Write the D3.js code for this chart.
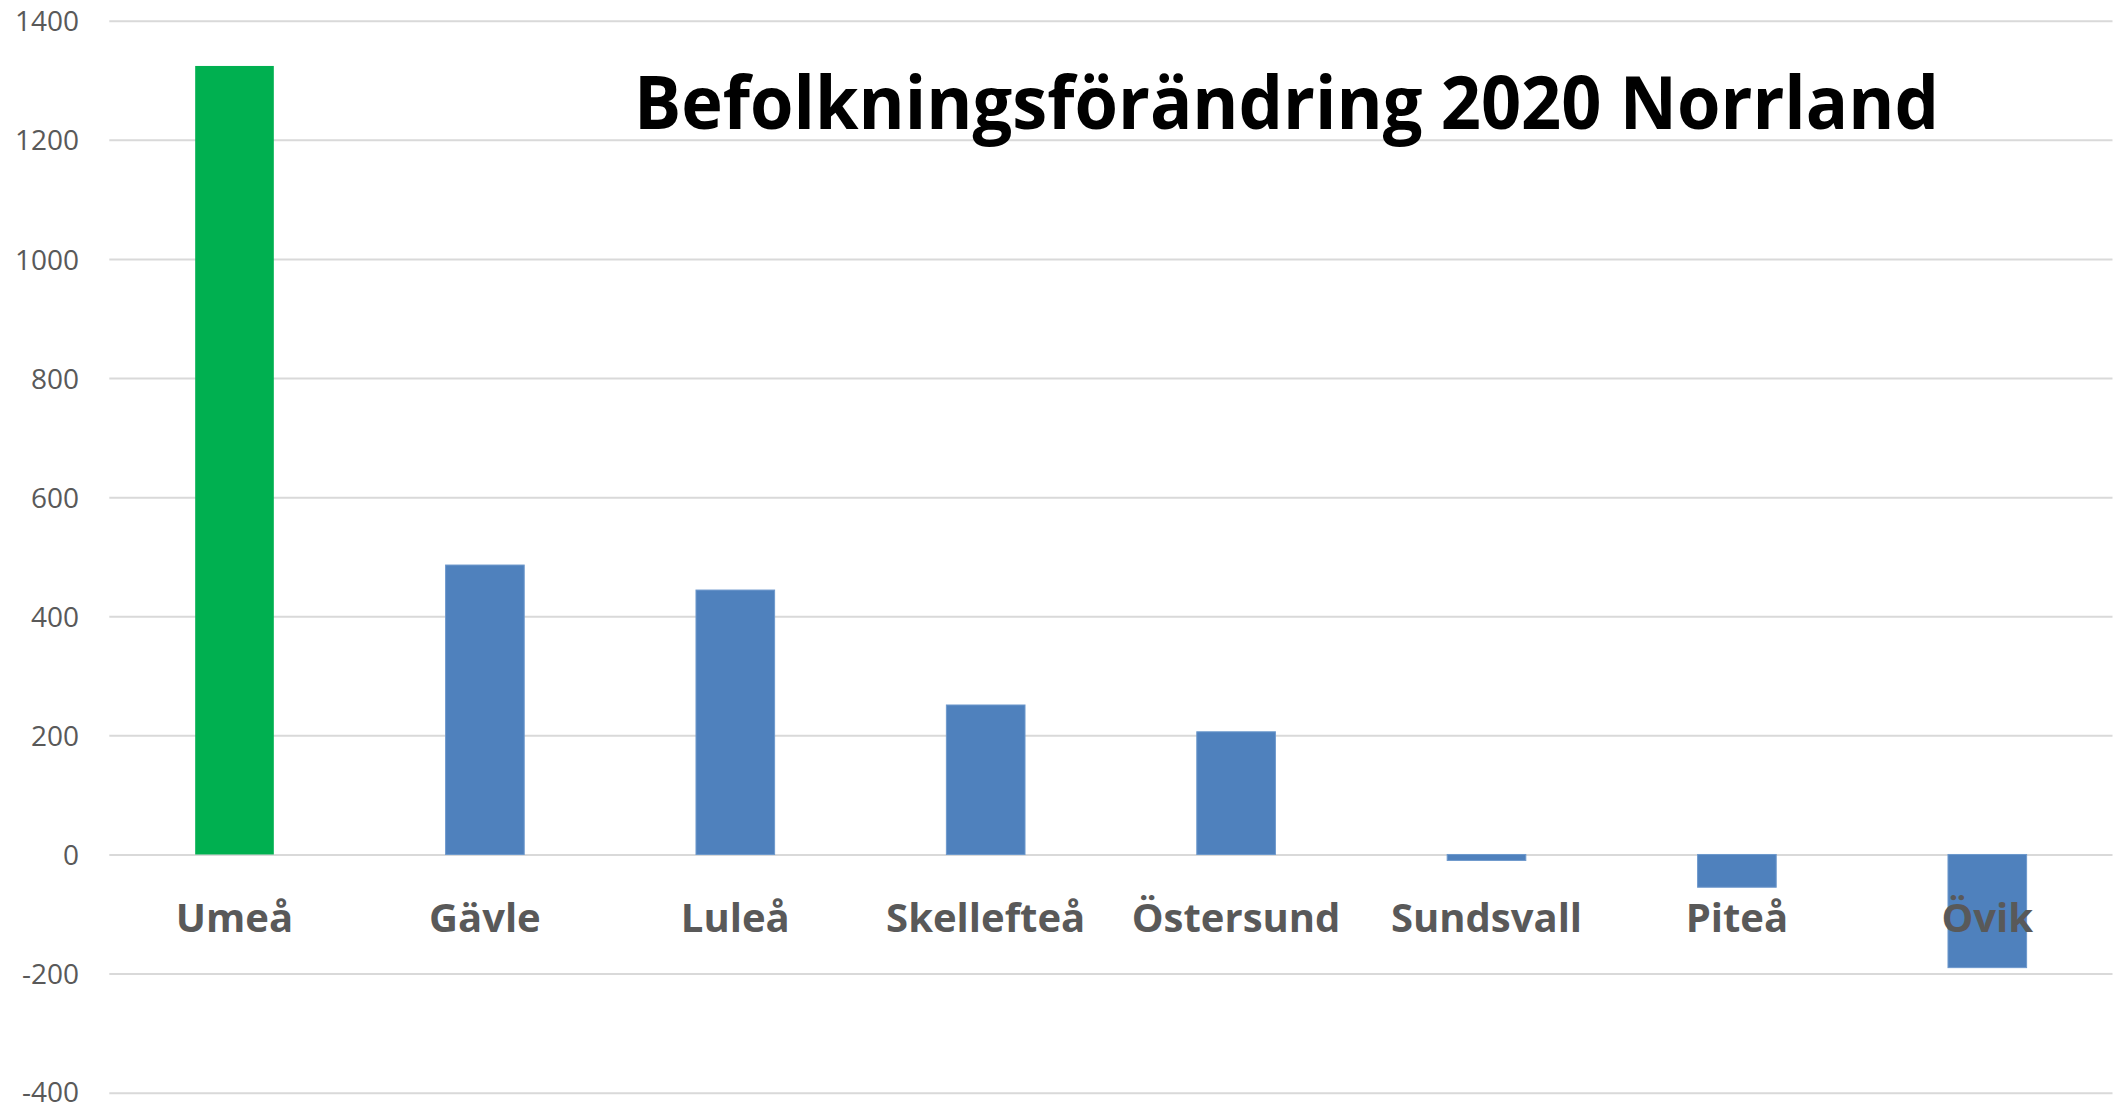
<!DOCTYPE html>
<html>
<head>
<meta charset="utf-8">
<script src="https://cdn.jsdelivr.net/npm/d3@7"></script>
<style>
  html, body { margin: 0; padding: 0; background: #ffffff; }
  svg { display: block; }
</style>
</head>
<body>
<svg id="chart" width="2123" height="1108"></svg>
<script>
// ---- data ----
const categories = ["Umeå", "Gävle", "Luleå", "Skellefteå", "Östersund", "Sundsvall", "Piteå", "Övik"];
const values = [1324, 486, 444, 251, 206, -10, -55, -190];
const yTicks = [-400, -200, 0, 200, 400, 600, 800, 1000, 1200, 1400];
const titleText = "Befolkningsförändring 2020 Norrland";
const highlighted = ["Umeå"];

// ---- layout ----
const plot = { left: 109.3, right: 2112.5, top: 20.7, bottom: 1092.7 };
const svg = d3.select("#chart");

const x = d3.scaleBand()
  .domain(categories)
  .range([plot.left, plot.right])
  .paddingInner(0.686)
  .paddingOuter(0.343);

const y = d3.scaleLinear()
  .domain([-400, 1400])
  .range([plot.bottom, plot.top]);

// gridlines
const grid = d3.axisLeft(y)
  .tickValues(yTicks)
  .tickSize(-(plot.right - plot.left))
  .tickFormat("");
svg.append("g")
  .attr("transform", `translate(${plot.left},0)`)
  .call(grid)
  .call(g => g.select(".domain").remove())
  .call(g => g.selectAll("line").attr("stroke", "#d9d9d9").attr("stroke-width", 2));

// y tick labels
const yAxis = d3.axisLeft(y)
  .tickValues(yTicks)
  .tickSize(0)
  .tickPadding(0)
  .tickFormat(d3.format("d"));
svg.append("g")
  .attr("transform", `translate(79,0)`)
  .call(yAxis)
  .call(g => g.select(".domain").remove())
  .call(g => g.selectAll("text")
    .attr("font-family", "'Open Sans', sans-serif")
    .attr("font-size", 28)
    .attr("fill", "#595959")
    .attr("dy", d => d === -400 ? "0.30em" : "0.36em")
    .text(d => d < 0 ? "-" + Math.abs(d) : d));

// bars
const data = categories.map((c, i) => ({ c, v: values[i] }));
svg.append("g")
  .selectAll("rect")
  .data(data)
  .join("rect")
  .attr("x", d => x(d.c))
  .attr("width", x.bandwidth())
  .attr("y", d => y(Math.max(0, d.v)))
  .attr("height", d => Math.abs(y(d.v) - y(0)))
  .attr("fill", d => highlighted.includes(d.c) ? "#00b050" : "#4f81bd")
  .attr("stroke", d => highlighted.includes(d.c) ? "none" : "#6d98cc")
  .attr("stroke-width", 1);

// category labels
svg.append("g")
  .selectAll("text")
  .data(categories)
  .join("text")
  .attr("x", d => x(d) + x.bandwidth() / 2)
  .attr("y", 931.7)
  .attr("text-anchor", "middle")
  .attr("font-family", "'Open Sans', sans-serif")
  .attr("font-weight", "bold")
  .attr("font-size", 40)
  .attr("fill", "#595959")
  .text(d => d);

// title
const title = svg.append("text")
  .attr("x", 634)
  .attr("y", 129.3)
  .attr("font-family", "'Open Sans', sans-serif")
  .attr("font-weight", "bold")
  .attr("font-size", 74)
  .attr("fill", "#000000")
  .text(titleText);
const natural = title.node().getComputedTextLength();
if (natural > 1305) {
  title.attr("textLength", 1305).attr("lengthAdjust", "spacingAndGlyphs");
}
</script>
</body>
</html>
